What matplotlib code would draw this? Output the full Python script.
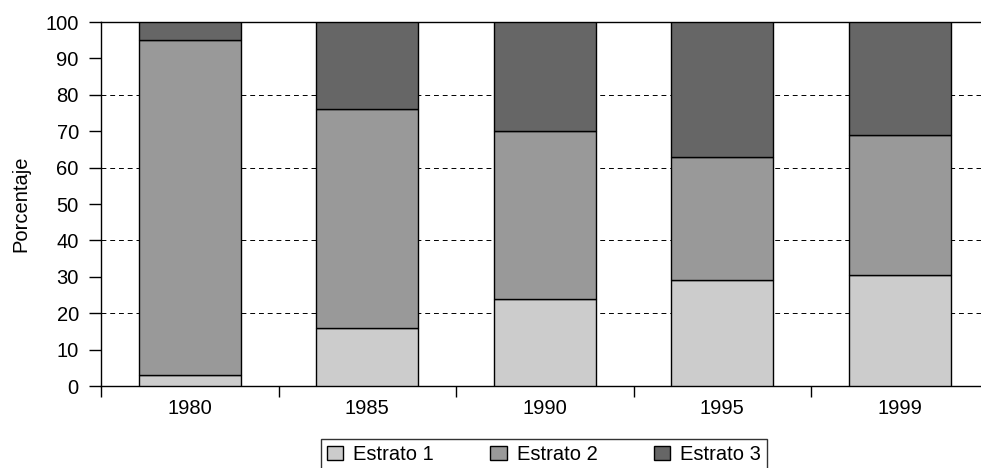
import matplotlib
matplotlib.use("Agg")
import matplotlib.pyplot as plt
import numpy as np

plt.rcParams['font.family'] = ['Liberation Sans', 'DejaVu Sans']

# data (percent of each year)
years = ['1980', '1985', '1990', '1995', '1999']
estrato1 = [3, 16, 24, 29, 30.5]
estrato2 = [92, 60, 46, 34, 38.5]
estrato3 = [5, 24, 30, 37, 31]
labels = ['Estrato 1', 'Estrato 2', 'Estrato 3']
colors = ['#cccccc', '#999999', '#666666']

fs = 14.5

fig = plt.figure(figsize=(9.81, 4.68), dpi=100)
ax = fig.add_axes([101 / 981, 1 - 386 / 468, 880 / 981, (386 - 22) / 468])

x = np.arange(len(years))
bottom = np.zeros(len(years))
for vals, lab, col in zip([estrato1, estrato2, estrato3], labels, colors):
    ax.bar(x, vals, width=0.573, bottom=bottom, color=col, edgecolor='black',
           linewidth=1.0, label=lab, zorder=3)
    bottom += np.array(vals)

ax.set_ylim(0, 100)
ax.set_xlim(-0.5, -0.5 + 880 / 177.5)
ax.set_yticks(np.arange(0, 101, 10))
for yv in [20, 40, 60, 80]:
    ax.axhline(yv, color='black', linestyle=(0, (5, 4)), linewidth=0.7, zorder=1)

ax.set_xticks(x)
ax.set_xticklabels(years)
ax.set_xticks(np.arange(-0.5, len(years) - 0.5, 1.0), minor=True)
ax.tick_params(axis='x', which='major', length=0, pad=9, labelsize=fs)
ax.tick_params(axis='x', which='minor', length=8, width=1.0, direction='out')
ax.tick_params(axis='y', length=9, width=1.0, pad=7, labelsize=fs)

ax.spines['right'].set_visible(False)
for s in ['left', 'bottom', 'top']:
    ax.spines[s].set_linewidth(1.0)

ax.set_ylabel('Porcentaje', fontsize=fs)
ax.yaxis.set_label_coords(-0.08, 0.5)

leg = fig.legend(loc='upper center', bbox_to_anchor=(544 / 981, 1 - 439 / 468),
                 ncol=3, frameon=True, fancybox=False, edgecolor='black',
                 fontsize=fs, handlelength=0.8, handleheight=0.7,
                 columnspacing=2.8, handletextpad=0.5, borderpad=0.3,
                 borderaxespad=0)
leg.get_frame().set_linewidth(1.0)

fig.savefig('out.png', dpi=100)
